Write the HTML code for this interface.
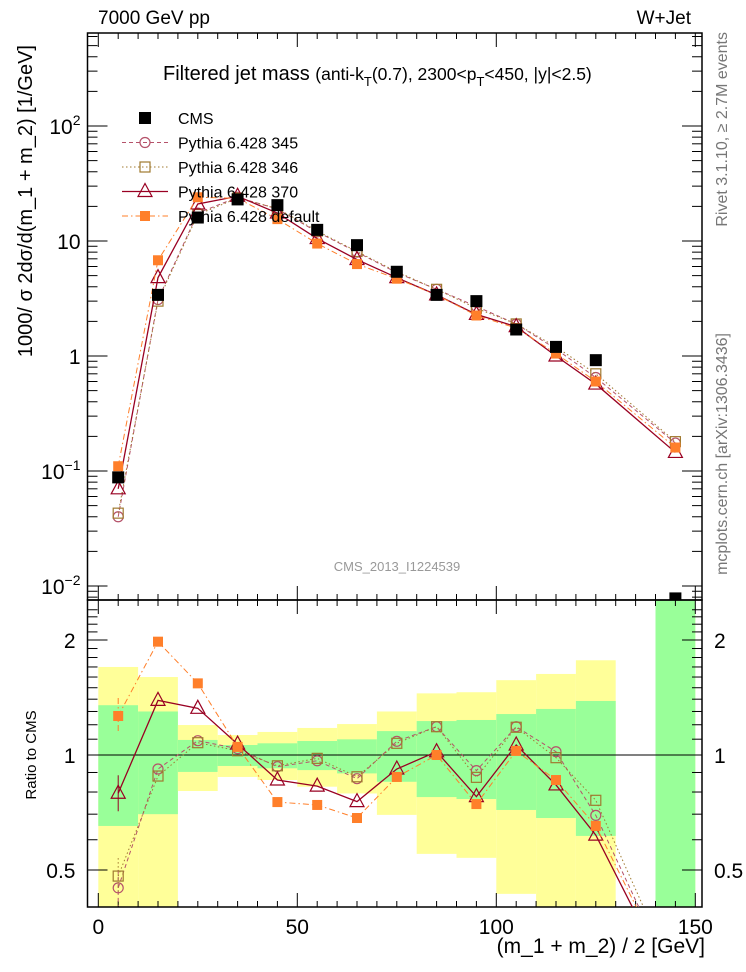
<!DOCTYPE html>
<html><head><meta charset="utf-8">
<style>
html,body{margin:0;padding:0;background:#fff;overflow:hidden;width:746px;height:972px;}
svg{display:block;font-family:"Liberation Sans","DejaVu Sans",sans-serif;overflow:hidden;}
</style></head>
<body>
<svg id="chart" width="746" height="972" viewBox="0 0 746 972"></svg>
<script>
const bins=[5,15,25,35,45,55,65,75,85,95,105,115,125,145];
const cmsVals=[0.088,3.4,16,23,20.5,12.5,9.2,5.4,3.4,3.0,1.7,1.2,0.92,0.0078];
const p345Vals=[0.04,3.1,17.5,24,19,12,8,5.3,3.8,2.7,1.9,1.15,0.65,0.175];
const p346Vals=[0.043,3.0,17,23.6,19.2,12.2,8.1,5.4,3.8,2.6,1.9,1.2,0.7,0.18];
const p370Vals=[0.07,4.8,21,24.5,17.5,10.5,6.9,4.8,3.4,2.3,1.8,1.0,0.57,0.145];
const pdefVals=[0.11,6.8,24,23.5,15.5,9.5,6.3,4.7,3.4,2.25,1.75,1.05,0.6,0.16];
const r345=[0.449,0.919,1.09,1.039,0.932,0.966,0.867,1.086,1.186,0.91,1.186,1.02,0.695,0.25];
const r346=[0.482,0.881,1.077,1.026,0.937,0.98,0.877,1.073,1.186,0.874,1.182,0.984,0.761,0.26];
const r370=[0.794,1.39,1.325,1.068,0.86,0.829,0.755,0.919,1.02,0.778,1.062,0.835,0.617,0.24];
const rdef=[1.265,1.98,1.54,1.05,0.753,0.74,0.684,0.876,1.0,0.744,1.025,0.86,0.652,0.25];
const bandLo=[0,10,20,30,40,50,60,70,80,90,100,110,120,140];
const bandHi=[10,20,30,40,50,60,70,80,90,100,110,120,130,150];
const yelTop=[1.70,1.60,1.198,1.128,1.149,1.177,1.205,1.30,1.45,1.46,1.57,1.63,1.77,3];
const yelBot=[0.39,0.39,0.805,0.876,0.86,0.826,0.793,0.697,0.551,0.538,0.433,0.39,0.39,0.3];
const grnTop=[1.35,1.30,1.095,1.062,1.073,1.088,1.099,1.155,1.227,1.235,1.28,1.32,1.385,3];
const grnBot=[0.652,0.70,0.903,0.936,0.923,0.913,0.895,0.851,0.776,0.767,0.718,0.684,0.614,0.3];
const xTicks=[0,50,100,150];
const yMainTicks=[{v:100,t:"10",s:"2"},{v:10,t:"10",s:""},{v:1,t:"1",s:""},{v:0.1,t:"10",s:"−1"},{v:0.01,t:"10",s:"−2"}];
const yRatioTicks=[{v:0.5,t:"0.5"},{v:1,t:"1"},{v:2,t:"2"}];

const NS="http://www.w3.org/2000/svg";
const svg=document.getElementById('chart');
const L=87.5,R=702,T=33,MB=600,RB=907;
const X=v=>98.3+v*3.98;
const YM=v=>356-115*Math.log10(v);
const YR=v=>755-382*Math.log10(v);
function el(tag,attrs,parent){const e=document.createElementNS(NS,tag);for(const k in attrs)e.setAttribute(k,attrs[k]);(parent||svg).appendChild(e);return e;}
function txt(x,y,s,attrs,parent){const e=el('text',Object.assign({x:x,y:y},attrs||{}),parent);e.textContent=s;return e;}

const defs=el('defs',{});
const c1=el('clipPath',{id:'cm'},defs);el('rect',{x:L,y:T,width:R-L,height:MB-T},c1);
const c2=el('clipPath',{id:'cr'},defs);el('rect',{x:L,y:MB,width:R-L,height:RB-MB},c2);

const gBands=el('g',{'clip-path':'url(#cr)'});


for(let i=0;i<bandLo.length;i++){
  const y=el('rect',{x:X(bandLo[i]),width:X(bandHi[i])-X(bandLo[i]),y:YR(yelTop[i]),height:YR(yelBot[i])-YR(yelTop[i]),fill:'#ffff99'},gBands);
  
  
  const g=el('rect',{x:X(bandLo[i]),width:X(bandHi[i])-X(bandLo[i]),y:YR(grnTop[i]),height:YR(grnBot[i])-YR(grnTop[i]),fill:'#99ff99'},gBands);
  
  
}
el('line',{x1:L,x2:R,y1:YR(1),y2:YR(1),stroke:'#000','stroke-width':1});

el('rect',{x:L,y:T,width:R-L,height:MB-T,fill:'none',stroke:'#000','stroke-width':1.5,});
el('rect',{x:L,y:MB,width:R-L,height:RB-MB,fill:'none',stroke:'#000','stroke-width':1.5,});

for(let v=0;v<=150;v+=5){
  const big=v%50===0;const len=big?14:6;
  [MB,RB].forEach(b=>el('line',{x1:X(v),x2:X(v),y1:b,y2:b-len,stroke:'#000'}));
  el('line',{x1:X(v),x2:X(v),y1:MB,y2:MB+len,stroke:'#000'});
  el('line',{x1:X(v),x2:X(v),y1:T,y2:T+len,stroke:'#000'});
}
xTicks.forEach(v=>{const t=txt(X(v),934,String(v),{'font-size':21,'text-anchor':'middle'});});
for(let d=-3;d<=3;d++){
  for(let m=1;m<=9;m++){
    const v=m*Math.pow(10,d);const y=YM(v);
    if(y<T||y>MB)continue;
    const len=m===1?20:10;
    el('line',{x1:L,x2:L+len,y1:y,y2:y,stroke:'#000'});
    el('line',{x1:R,x2:R-len,y1:y,y2:y,stroke:'#000'});
  }
}
yMainTicks.forEach(o=>{
  const t=txt(L-7,YM(o.v)+8,'',{'font-size':21,'text-anchor':'end'});
  
  
  const a=el('tspan',{},t);a.textContent=o.t;
  if(o.s){const b=el('tspan',{'font-size':14,dy:-9},t);b.textContent=o.s;}
});
for(let v=0.4;v<=2.5;v+=0.1){
  const y=YR(v);if(y<MB||y>RB)continue;
  const big=Math.abs(v-0.5)<1e-6||Math.abs(v-1)<1e-6||Math.abs(v-2)<1e-6;
  const len=big?20:10;
  el('line',{x1:L,x2:L+len,y1:y,y2:y,stroke:'#000'});
  el('line',{x1:R,x2:R-len,y1:y,y2:y,stroke:'#000'});
}
yRatioTicks.forEach(o=>{
  const t=txt(L-12,YR(o.v)+8,o.t,{'font-size':21,'text-anchor':'end'});
  const t2=txt(R+12,YR(o.v)+8,o.t,{'font-size':21,'text-anchor':'start'});
});

function marker(g,type,x,y,col){
  if(type==='sq')el('rect',{x:x-6,y:y-6,width:12,height:12,fill:'#000'},g);
  else if(type==='circ')el('circle',{cx:x,cy:y,r:5,fill:'none',stroke:col,'stroke-width':1.2},g);
  else if(type==='osq')el('rect',{x:x-5,y:y-5,width:10,height:10,fill:'none',stroke:col,'stroke-width':1.2},g);
  else if(type==='tri')el('polygon',{points:`${x},${y-8} ${x-7},${y+5} ${x+7},${y+5}`,fill:'none',stroke:col,'stroke-width':1.2},g);
  else if(type==='fsq')el('rect',{x:x-5,y:y-5,width:10,height:10,fill:col},g);
}
const series=[
  {n:'pythia-345',col:'#b5526a',dash:'4,3',m:'circ',main:p345Vals,ratio:r345,w:1},
  {n:'pythia-346',col:'#a07a30',dash:'1.5,2.5',m:'osq',main:p346Vals,ratio:r346,w:1},
  {n:'pythia-370',col:'#990022',dash:'',m:'tri',main:p370Vals,ratio:r370,w:1.3},
  {n:'pythia-default',col:'#ff7f2a',dash:'6,3,1.5,3',m:'fsq',main:pdefVals,ratio:rdef,w:1}
];
series.forEach(s=>{
  const gm=el('g',{'clip-path':'url(#cm)'});
  
  
  el('polyline',{points:bins.map((b,i)=>X(b)+','+YM(s.main[i])).join(' '),fill:'none',stroke:s.col,'stroke-width':s.w,'stroke-dasharray':s.dash},gm);
  bins.forEach((b,i)=>marker(gm,s.m,X(b),YM(s.main[i]),s.col));
  const gr=el('g',{'clip-path':'url(#cr)'});
  
  
  el('polyline',{points:bins.map((b,i)=>X(b)+','+YR(s.ratio[i])).join(' '),fill:'none',stroke:s.col,'stroke-width':s.w,'stroke-dasharray':s.dash},gr);
  bins.forEach((b,i)=>marker(gr,s.m,X(b),YR(s.ratio[i]),s.col));
  el('line',{x1:X(5),x2:X(5),y1:YR(s.ratio[0])-18,y2:YR(s.ratio[0])+18,stroke:s.col,'stroke-dasharray':s.dash},gr);
});
const gc=el('g',{'clip-path':'url(#cm)'});


bins.forEach((b,i)=>marker(gc,'sq',X(b),YM(cmsVals[i]),'#000'));

const leg=el('g',{});


const legItems=[{t:'CMS',m:'sq',col:'#000',dash:null,w:1},...series.map((s,i)=>({t:['Pythia 6.428 345','Pythia 6.428 346','Pythia 6.428 370','Pythia 6.428 default'][i],m:s.m,col:s.col,dash:s.dash,w:s.w}))];
legItems.forEach((it,i)=>{
  const y=118+i*24.5;
  const g=el('g',{},leg);
  
  
  if(it.dash!==null)el('line',{x1:122,x2:168,y1:y,y2:y,stroke:it.col,'stroke-width':it.w,'stroke-dasharray':it.dash},g);
  marker(g,it.m,145,y,it.col);
  txt(178,y+6,it.t,{'font-size':16},g);
});

const t1=txt(98,24,'7000 GeV pp',{'font-size':19});
const t2=txt(691,24,'W+Jet',{'font-size':19,'text-anchor':'end'});
const tt=txt(163,80,'',{'font-size':20});
[['Filtered jet mass  ',20,0],['(anti-k',17.5,0],['T',13,6],['(0.7), 2300<p',17.5,-6],['T',13,6],['<450, |y|<2.5)',17.5,-6]].forEach(p=>{const s=el('tspan',{'font-size':p[1],dy:p[2]},tt);s.textContent=p[0];});
const tc=txt(397,571,'CMS_2013_I1224539',{'font-size':13,fill:'#999','text-anchor':'middle'});
const xt=txt(705,953,'(m_1 + m_2) / 2 [GeV]',{'font-size':21,'text-anchor':'end'});
const yt=txt(0,0,'1000/ σ 2dσ/d(m_1 + m_2) [1/GeV]',{'font-size':20,'text-anchor':'end',transform:'translate(32,45) rotate(-90)'});
const rt=txt(0,0,'Ratio to CMS',{'font-size':15,'text-anchor':'middle',transform:'translate(36,755) rotate(-90)'});
const rv=txt(0,0,'Rivet 3.1.10, ≥ 2.7M events',{'font-size':16,fill:'#777','text-anchor':'end',transform:'translate(727,32) rotate(-90)'});
const mc=txt(0,0,'mcplots.cern.ch [arXiv:1306.3436]',{'font-size':16,fill:'#777','text-anchor':'end',transform:'translate(727,333) rotate(-90)'});
</script>
</body></html>
